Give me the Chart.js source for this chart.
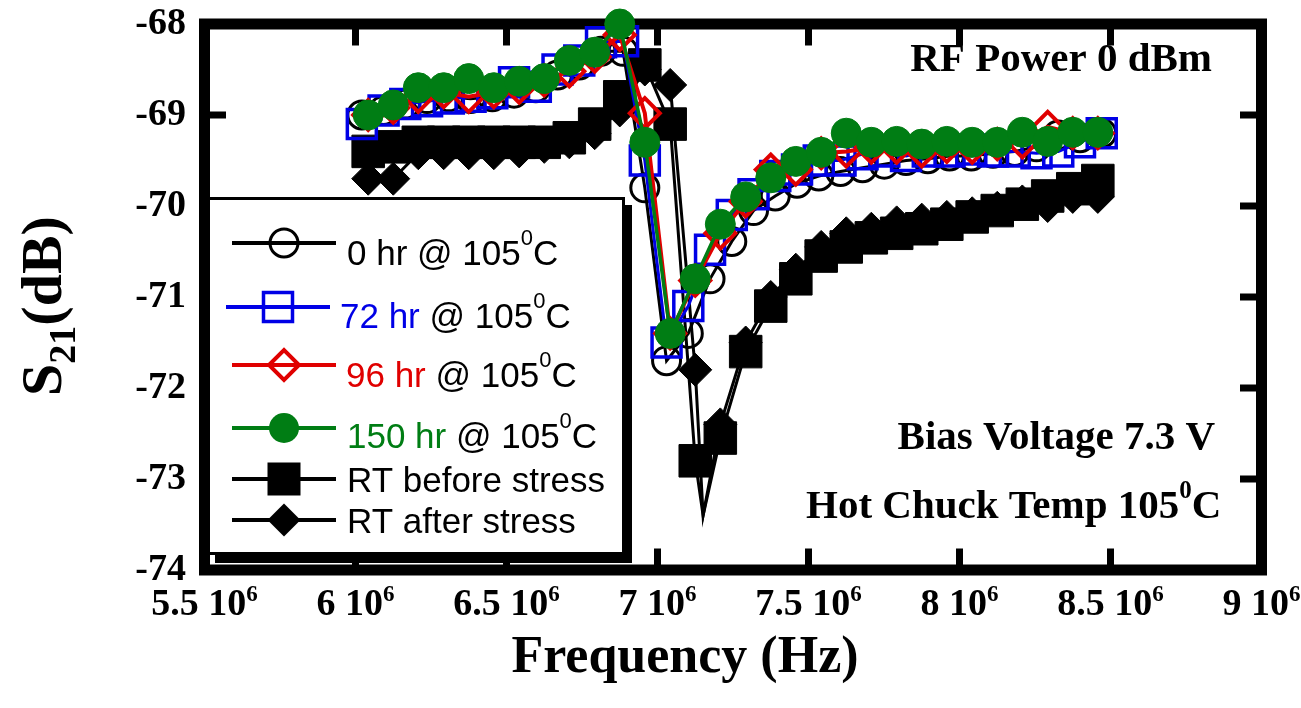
<!DOCTYPE html>
<html>
<head>
<meta charset="utf-8">
<script src="https://cdn.jsdelivr.net/npm/chart.js@4.4.1/dist/chart.umd.min.js"></script>
<style>
  html, body { margin: 0; padding: 0; background: #ffffff; }
  #wrap { width: 1301px; height: 708px; }
</style>
</head>
<body>
<div id="wrap"><canvas id="c" width="1301" height="708"></canvas></div>
<script>
// ---- Frequency grids (Hz) ----
const freqCoarse = [6.042e6, 6.125e6, 6.208e6, 6.292e6, 6.375e6, 6.458e6, 6.542e6, 6.625e6, 6.708e6, 6.792e6,
                    6.875e6, 6.958e6, 7.042e6, 7.125e6, 7.208e6, 7.292e6, 7.375e6, 7.458e6, 7.542e6, 7.625e6,
                    7.708e6, 7.792e6, 7.875e6, 7.958e6, 8.042e6, 8.125e6, 8.208e6, 8.292e6, 8.375e6, 8.458e6];
const freqFine = [6.021e6, 6.093e6, 6.165e6, 6.237e6, 6.309e6, 6.381e6, 6.453e6, 6.525e6, 6.597e6, 6.669e6,
                  6.741e6, 6.813e6, 6.886e6, 6.958e6, 7.030e6, 7.102e6, 7.174e6, 7.246e6, 7.318e6, 7.390e6,
                  7.462e6, 7.534e6, 7.606e6, 7.679e6, 7.751e6, 7.823e6, 7.895e6, 7.967e6, 8.039e6, 8.111e6,
                  8.183e6, 8.255e6, 8.327e6, 8.399e6, 8.471e6];
const freqRT = [6.042e6, 6.125e6, 6.208e6, 6.292e6, 6.375e6, 6.458e6, 6.542e6, 6.625e6, 6.708e6, 6.792e6,
                6.875e6, 6.958e6, 7.042e6, 7.125e6, 7.151e6, 7.208e6, 7.292e6, 7.375e6, 7.458e6, 7.542e6,
                7.625e6, 7.708e6, 7.792e6, 7.875e6, 7.958e6, 8.042e6, 8.125e6, 8.208e6, 8.292e6, 8.375e6, 8.458e6];
// resonance minimum of the RT sweeps is a line vertex without a symbol
const rtSymbolShown = freqRT.map(f => f !== 7.151e6);

// ---- S21 (dB) ----
const s21_0hr = [-69.00, -68.95, -68.88, -68.82, -68.80, -68.82, -68.80, -68.76, -68.70, -68.56,
                 -68.45, -68.30, -68.30, -69.80, -71.70, -71.40, -70.80, -70.39, -70.05, -69.89,
                 -69.75, -69.67, -69.62, -69.58, -69.54, -69.50, -69.48, -69.45, -69.45, -69.42,
                 -69.40, -69.35, -69.22, -69.25, -69.20];
const s21_72hr = [-69.10, -68.95, -68.88, -68.85, -68.82, -68.80, -68.76, -68.64, -68.69, -68.50,
                  -68.40, -68.20, -68.19, -69.50, -71.50, -71.10, -70.48, -70.10, -69.87, -69.67,
                  -69.60, -69.50, -69.50, -69.43, -69.40, -69.45, -69.40, -69.40, -69.38, -69.40,
                  -69.40, -69.42, -69.40, -69.30, -69.20];
const s21_96hr = [-69.00, -68.92, -68.80, -68.75, -68.80, -68.75, -68.70, -68.62, -68.52, -68.36,
                  -68.12, -68.98, -71.40, -70.82, -70.30, -69.95, -69.60, -69.60, -69.42, -69.40,
                  -69.36, -69.36, -69.40, -69.35, -69.36, -69.32, -69.30, -69.13, -69.20, -69.20];
const s21_150hr = [-69.00, -68.89, -68.70, -68.70, -68.60, -68.70, -68.63, -68.60, -68.40, -68.31,
                   -68.00, -69.30, -71.40, -70.80, -70.20, -69.90, -69.69, -69.51, -69.41, -69.20,
                   -69.30, -69.29, -69.32, -69.29, -69.30, -69.30, -69.19, -69.29, -69.19, -69.19];
const s21_rtBefore = [-69.40, -69.35, -69.30, -69.30, -69.30, -69.30, -69.30, -69.30, -69.25, -69.10,
                      -68.80, -68.45, -69.10, -72.80, -73.40, -72.55, -71.60, -71.10, -70.80, -70.55,
                      -70.45, -70.35, -70.30, -70.25, -70.20, -70.12, -70.05, -69.98, -69.89, -69.81, -69.72];
const s21_rtAfter = [-69.70, -69.70, -69.42, -69.42, -69.42, -69.42, -69.40, -69.35, -69.30, -69.20,
                     -68.95, -68.50, -68.67, -71.80, -73.40, -72.40, -71.50, -71.00, -70.70, -70.45,
                     -70.30, -70.25, -70.18, -70.15, -70.12, -70.08, -70.02, -69.95, -70.00, -69.90, -69.90];

// ---- Axis ticks ----
const xTickValues = [5.5e6, 6e6, 6.5e6, 7e6, 7.5e6, 8e6, 8.5e6, 9e6];
const xTickMantissa = ['5.5', '6', '6.5', '7', '7.5', '8', '8.5', '9'];
const yTickValues = [-68, -69, -70, -71, -72, -73, -74];
const yTickLabels = ['-68', '-69', '-70', '-71', '-72', '-73', '-74'];

// ---- Series appearance ----
const BLUE = '#0000e6', RED = '#e00000', GREEN = '#007d14', BLACK = '#000000';
const NONE = 'rgba(0,0,0,0)';
const SERIF = '"Liberation Serif", "Times New Roman", serif';
const SANS = '"Liberation Sans", Arial, sans-serif';

function pts(xs, ys) { return xs.map((x, i) => ({ x: x, y: ys[i] })); }

const datasets = [
  { label: '150 hr', data: pts(freqCoarse, s21_150hr), borderColor: GREEN, borderWidth: 3.5,
    pointStyle: 'circle', pointRadius: 15, pointBorderWidth: 1, pointBackgroundColor: GREEN,
    pointBorderColor: GREEN, order: 0 },
  { label: '96 hr', data: pts(freqCoarse, s21_96hr), borderColor: RED, borderWidth: 4,
    pointStyle: 'rectRot', pointRadius: 15, pointBorderWidth: 4, pointBackgroundColor: NONE,
    pointBorderColor: RED, order: 1 },
  { label: '72 hr', data: pts(freqFine, s21_72hr), borderColor: BLUE, borderWidth: 3,
    pointStyle: 'rect', pointRadius: 20.5, pointBorderWidth: 3.5, pointBackgroundColor: NONE,
    pointBorderColor: BLUE, order: 2 },
  { label: '0 hr', data: pts(freqFine, s21_0hr), borderColor: BLACK, borderWidth: 3,
    pointStyle: 'circle', pointRadius: 14, pointBorderWidth: 3, pointBackgroundColor: NONE,
    pointBorderColor: BLACK, order: 3 },
  { label: 'RT before stress', data: pts(freqRT, s21_rtBefore), borderColor: BLACK, borderWidth: 3,
    pointStyle: 'rect', pointRadius: (c) => rtSymbolShown[c.dataIndex] ? 23 : 0, pointBorderWidth: 1,
    pointBackgroundColor: BLACK, pointBorderColor: BLACK, order: 4 },
  { label: 'RT after stress', data: pts(freqRT, s21_rtAfter), borderColor: BLACK, borderWidth: 3,
    pointStyle: 'rectRot', pointRadius: (c) => rtSymbolShown[c.dataIndex] ? 16.5 : 0, pointBorderWidth: 1,
    pointBackgroundColor: BLACK, pointBorderColor: BLACK, order: 5 }
];
datasets.forEach(d => { d.showLine = true; d.tension = 0; d.clip = false; d.pointHoverRadius = d.pointRadius; });

// ---- Text helpers ----
// Draws a run of text pieces left to right; pieces may be raised superscripts or lowered subscripts.
function drawRuns(ctx, x, y, runs) {
  let cx = x;
  runs.forEach(r => {
    ctx.font = r.font;
    ctx.fillStyle = r.color || '#000';
    ctx.fillText(r.text, cx, y - (r.rise || 0));
    cx += ctx.measureText(r.text).width;
  });
  return cx - x;
}
function runsWidth(ctx, runs) {
  let w = 0;
  runs.forEach(r => { ctx.font = r.font; w += ctx.measureText(r.text).width; });
  return w;
}

function legendSymbol(ctx, kind, x, y, color) {
  ctx.save();
  ctx.strokeStyle = color; ctx.fillStyle = color;
  ctx.beginPath();
  if (kind === 'openCircle') { ctx.lineWidth = 3; ctx.arc(x, y, 14, 0, Math.PI * 2); ctx.stroke(); }
  else if (kind === 'dot') { ctx.arc(x, y, 15, 0, Math.PI * 2); ctx.fill(); }
  else if (kind === 'openSquare') { ctx.lineWidth = 3.5; ctx.rect(x - 14.5, y - 14.5, 29, 29); ctx.stroke(); }
  else if (kind === 'square') { ctx.rect(x - 16.5, y - 16.5, 33, 33); ctx.fill(); }
  else if (kind === 'openDiamond' || kind === 'diamond') {
    const r = kind === 'diamond' ? 16.5 : 15;
    ctx.moveTo(x - r, y); ctx.lineTo(x, y - r); ctx.lineTo(x + r, y); ctx.lineTo(x, y + r); ctx.closePath();
    if (kind === 'diamond') ctx.fill(); else { ctx.lineWidth = 4; ctx.stroke(); }
  }
  ctx.restore();
}

const legendRows = [
  { lineY: 243, textY: 265, symX: 284, x1: 232, x2: 336, textX: 347, color: BLACK, kind: 'openCircle', head: '0 hr', tail: true },
  { lineY: 307, textY: 328, symX: 278, x1: 226, x2: 330, textX: 340, color: BLUE, kind: 'openSquare', head: '72 hr', tail: true },
  { lineY: 365, textY: 387, symX: 284, x1: 232, x2: 336, textX: 346, color: RED, kind: 'openDiamond', head: '96 hr', tail: true },
  { lineY: 428, textY: 448, symX: 284, x1: 232, x2: 336, textX: 347, color: GREEN, kind: 'dot', head: '150 hr', tail: true },
  { lineY: 479, textY: 492, symX: 284, x1: 232, x2: 336, textX: 347, color: BLACK, kind: 'square', head: 'RT before stress', tail: false },
  { lineY: 520, textY: 533, symX: 284, x1: 232, x2: 336, textX: 347, color: BLACK, kind: 'diamond', head: 'RT after stress', tail: false }
];

const framePlugin = {
  id: 'frameAndText',
  beforeDatasetsDraw(chart) {
    const { ctx, chartArea: a, scales: { x, y } } = chart;
    ctx.save();
    ctx.strokeStyle = '#000';
    ctx.lineWidth = 11;
    ctx.strokeRect(a.left, a.top, a.right - a.left, a.bottom - a.top);
    ctx.fillStyle = '#000';
    const len = 21.5, tw = 7;
    xTickValues.forEach(v => {
      const px = x.getPixelForValue(v);
      if (px <= a.left + 1 || px >= a.right - 1) return;
      ctx.fillRect(px - tw / 2, a.top, tw, len);
      ctx.fillRect(px - tw / 2, a.bottom - len, tw, len);
    });
    yTickValues.forEach(v => {
      const py = y.getPixelForValue(v);
      if (py <= a.top + 1 || py >= a.bottom - 1) return;
      ctx.fillRect(a.left, py - tw / 2, len, tw);
      ctx.fillRect(a.right - len, py - tw / 2, len, tw);
    });
    ctx.restore();
  },
  afterDatasetsDraw(chart) {
    const { ctx } = chart;
    ctx.save();
    // legend panel with drop shadow
    ctx.fillStyle = '#000';
    ctx.fillRect(215, 205, 417, 358);
    ctx.fillStyle = '#fff';
    ctx.fillRect(207, 197, 418, 358);
    ctx.strokeStyle = '#000';
    ctx.lineWidth = 3;
    ctx.strokeRect(208.5, 198.5, 415, 355);
    ctx.textBaseline = 'alphabetic';
    ctx.textAlign = 'left';
    legendRows.forEach(r => {
      ctx.strokeStyle = r.color; ctx.lineWidth = 4;
      ctx.beginPath(); ctx.moveTo(r.x1, r.lineY); ctx.lineTo(r.x2, r.lineY); ctx.stroke();
      legendSymbol(ctx, r.kind, r.symX, r.lineY, r.color);
      const runs = [{ text: r.head, font: '35px ' + SANS, color: r.color }];
      if (r.tail) {
        runs.push({ text: ' @ 105', font: '35px ' + SANS, color: '#000' });
        runs.push({ text: '0', font: '22px ' + SANS, color: '#000', rise: 20 });
        runs.push({ text: 'C', font: '35px ' + SANS, color: '#000' });
      }
      drawRuns(ctx, r.textX, r.textY, runs);
    });
    ctx.restore();
  },
  afterDraw(chart) {
    const { ctx, scales: { x, y } } = chart;
    ctx.save();
    ctx.fillStyle = '#000';
    // y tick labels
    ctx.font = 'bold 38px ' + SERIF;
    ctx.textAlign = 'right';
    ctx.textBaseline = 'middle';
    yTickValues.forEach((v, i) => ctx.fillText(yTickLabels[i], 186, y.getPixelForValue(v)));
    // x tick labels: "m 10^6"
    ctx.textAlign = 'left';
    ctx.textBaseline = 'alphabetic';
    xTickValues.forEach((v, i) => {
      const runs = [
        { text: xTickMantissa[i] + ' 10', font: 'bold 38px ' + SERIF },
        { text: '6', font: 'bold 23px ' + SERIF, rise: 14 }
      ];
      const w = runsWidth(ctx, runs);
      drawRuns(ctx, x.getPixelForValue(v) - w / 2, 615, runs);
    });
    // x axis title
    ctx.font = 'bold 52px ' + SERIF;
    ctx.textAlign = 'center';
    ctx.fillText('Frequency (Hz)', 685, 672);
    // y axis title, rotated, with subscript
    ctx.textAlign = 'left';
    const yRuns = [
      { text: 'S', font: 'bold 58px ' + SERIF },
      { text: '21', font: 'bold 38px ' + SERIF, rise: -14 },
      { text: '(dB)', font: 'bold 58px ' + SERIF }
    ];
    const yw = runsWidth(ctx, yRuns);
    ctx.translate(61, 306);
    ctx.rotate(-Math.PI / 2);
    drawRuns(ctx, -yw / 2, 0, yRuns);
    ctx.setTransform(1, 0, 0, 1, 0, 0);
    // measurement conditions
    ctx.font = 'bold 41px ' + SERIF;
    ctx.textAlign = 'right';
    ctx.fillText('RF Power 0 dBm', 1212, 71);
    ctx.fillText('Bias Voltage 7.3 V', 1215, 449);
    ctx.textAlign = 'left';
    drawRuns(ctx, 806, 518, [
      { text: 'Hot Chuck Temp 105', font: 'bold 41px ' + SERIF },
      { text: '0', font: 'bold 25px ' + SERIF, rise: 20 },
      { text: 'C', font: 'bold 41px ' + SERIF }
    ]);
    ctx.restore();
  }
};

new Chart(document.getElementById('c'), {
  type: 'scatter',
  data: { datasets: datasets },
  options: {
    responsive: false,
    animation: false,
    devicePixelRatio: 1,
    layout: { padding: { left: 204.5, right: 39.5, top: 18.5, bottom: 138 } },
    scales: {
      x: { type: 'linear', min: 5.5e6, max: 9e6, display: false },
      y: { type: 'linear', min: -74, max: -68, display: false }
    },
    plugins: { legend: { display: false }, tooltip: { enabled: false } },
    events: []
  },
  plugins: [framePlugin]
});
</script>
</body>
</html>
